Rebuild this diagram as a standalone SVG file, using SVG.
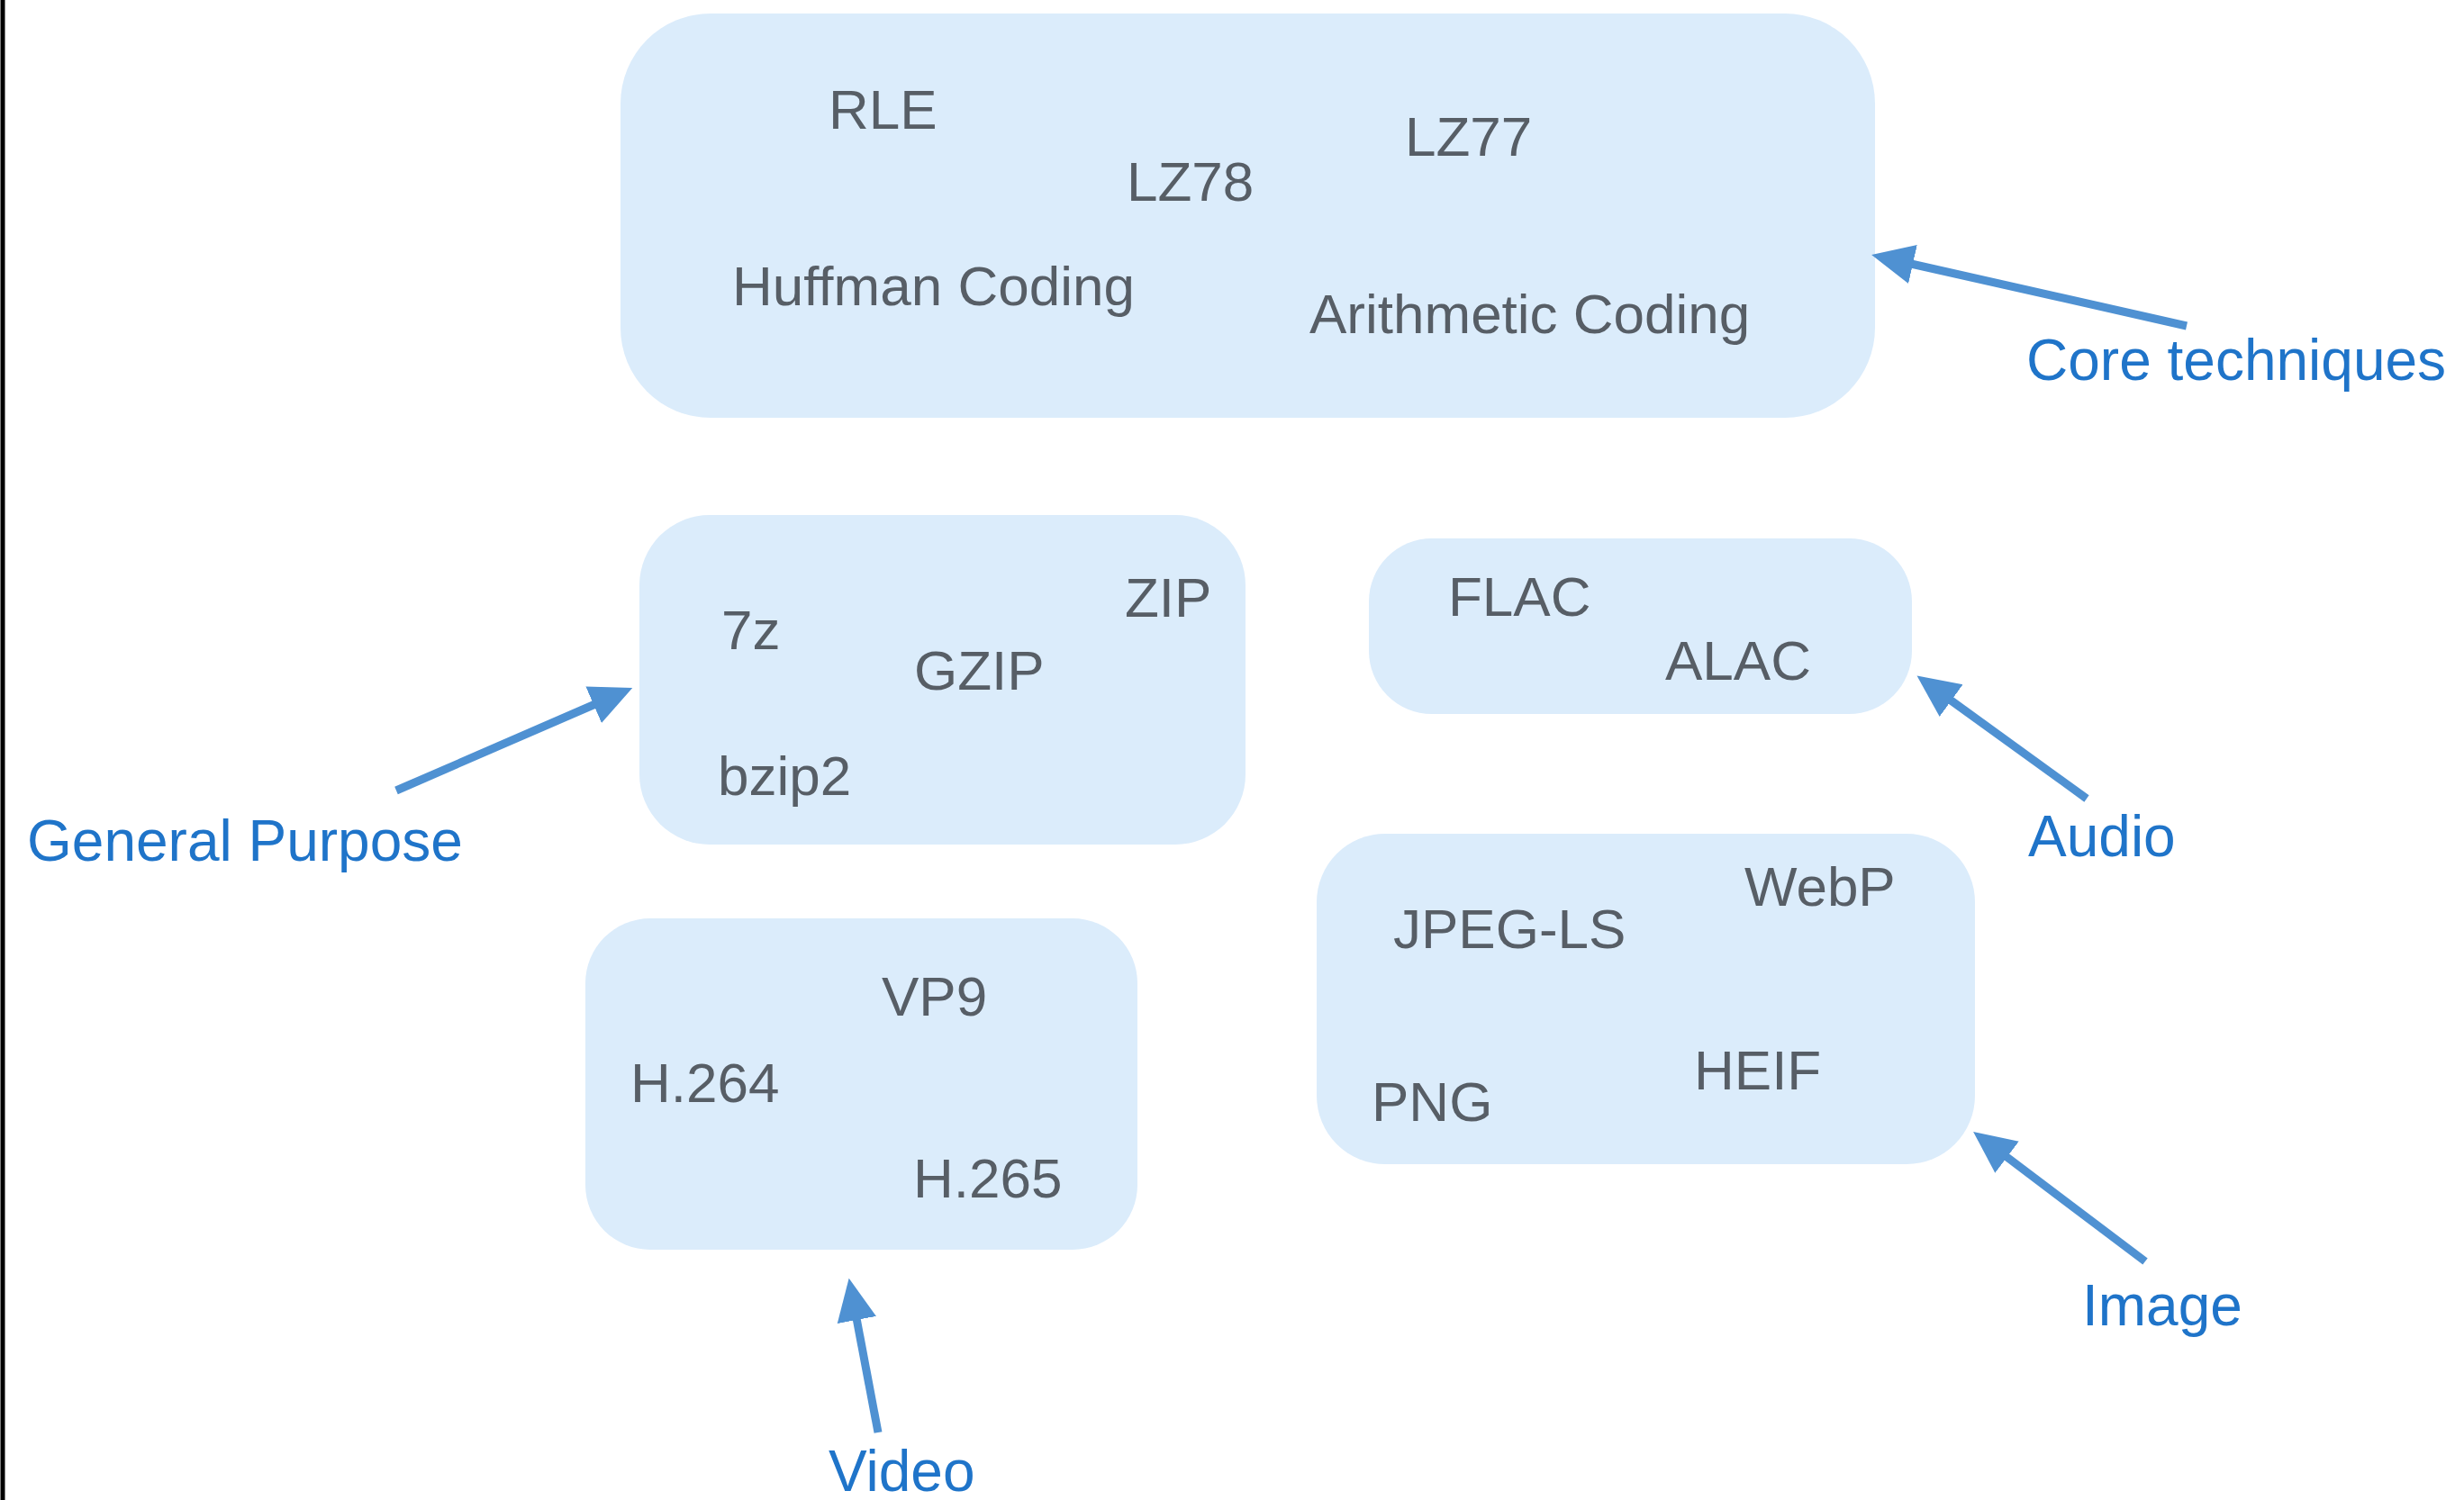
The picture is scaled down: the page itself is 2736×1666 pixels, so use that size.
<svg xmlns="http://www.w3.org/2000/svg" width="2736" height="1666" viewBox="0 0 2736 1666">
<style>
.box{fill:#dbecfb;}
.t{font-family:"Liberation Sans",Arial,sans-serif;font-size:62px;fill:#575e66;}
.lbl{font-family:"Liberation Sans",Arial,sans-serif;font-size:64px;fill:#1f74c9;}
.conn{stroke:#4f91d2;stroke-width:9;fill:none;marker-end:url(#ah);}
</style>
<defs>
<marker id="ah" markerUnits="userSpaceOnUse" markerWidth="48" markerHeight="46" refX="2" refY="23" orient="auto">
<path d="M0,1 L47,23 L0,45 z" fill="#4f91d2"/>
</marker>
</defs>
<rect x="0" y="0" width="2736" height="1666" fill="#ffffff"/>
<line x1="3" y1="0" x2="3" y2="1666" stroke="#000000" stroke-width="5"/>
<g id="core">
<rect class="box" x="689" y="15" width="1393" height="449" rx="100" ry="100"/>
<text class="t" x="920" y="143">RLE</text>
<text class="t" x="1251" y="223">LZ78</text>
<text class="t" x="1560" y="173">LZ77</text>
<text class="t" x="813" y="339">Huffman Coding</text>
<text class="t" x="1454" y="370">Arithmetic Coding</text>
</g>
<g id="general">
<rect class="box" x="710" y="572" width="673" height="366" rx="78" ry="78"/>
<text class="t" x="801" y="721">7z</text>
<text class="t" x="1249" y="685">ZIP</text>
<text class="t" x="1015" y="766">GZIP</text>
<text class="t" x="797" y="883">bzip2</text>
</g>
<g id="audio">
<rect class="box" x="1520" y="598" width="603" height="195" rx="70" ry="70"/>
<text class="t" x="1608" y="684">FLAC</text>
<text class="t" x="1849" y="755">ALAC</text>
</g>
<g id="image">
<rect class="box" x="1462" y="926" width="731" height="367" rx="76" ry="76"/>
<text class="t" x="1937" y="1006">WebP</text>
<text class="t" x="1547" y="1053">JPEG-LS</text>
<text class="t" x="1881" y="1210">HEIF</text>
<text class="t" x="1523" y="1245">PNG</text>
</g>
<g id="video">
<rect class="box" x="650" y="1020" width="613" height="368" rx="72" ry="72"/>
<text class="t" x="979" y="1128">VP9</text>
<text class="t" x="700" y="1224">H.264</text>
<text class="t" x="1014" y="1330">H.265</text>
</g>
<g id="labels">
<text class="lbl" x="2250" y="422">Core techniques</text>
<text class="lbl" x="30" y="956">General Purpose</text>
<text class="lbl" x="2252" y="951">Audio</text>
<text class="lbl" x="2312" y="1472">Image</text>
<text class="lbl" x="920" y="1656">Video</text>
</g>
<g id="connectors">
<line class="conn" x1="2428" y1="362" x2="2122" y2="293"/>
<line class="conn" x1="440" y1="878" x2="661" y2="782"/>
<line class="conn" x1="2317" y1="887" x2="2165" y2="777"/>
<line class="conn" x1="2382" y1="1401" x2="2227" y2="1284"/>
<line class="conn" x1="975" y1="1591" x2="951" y2="1464"/>
</g>
</svg>
